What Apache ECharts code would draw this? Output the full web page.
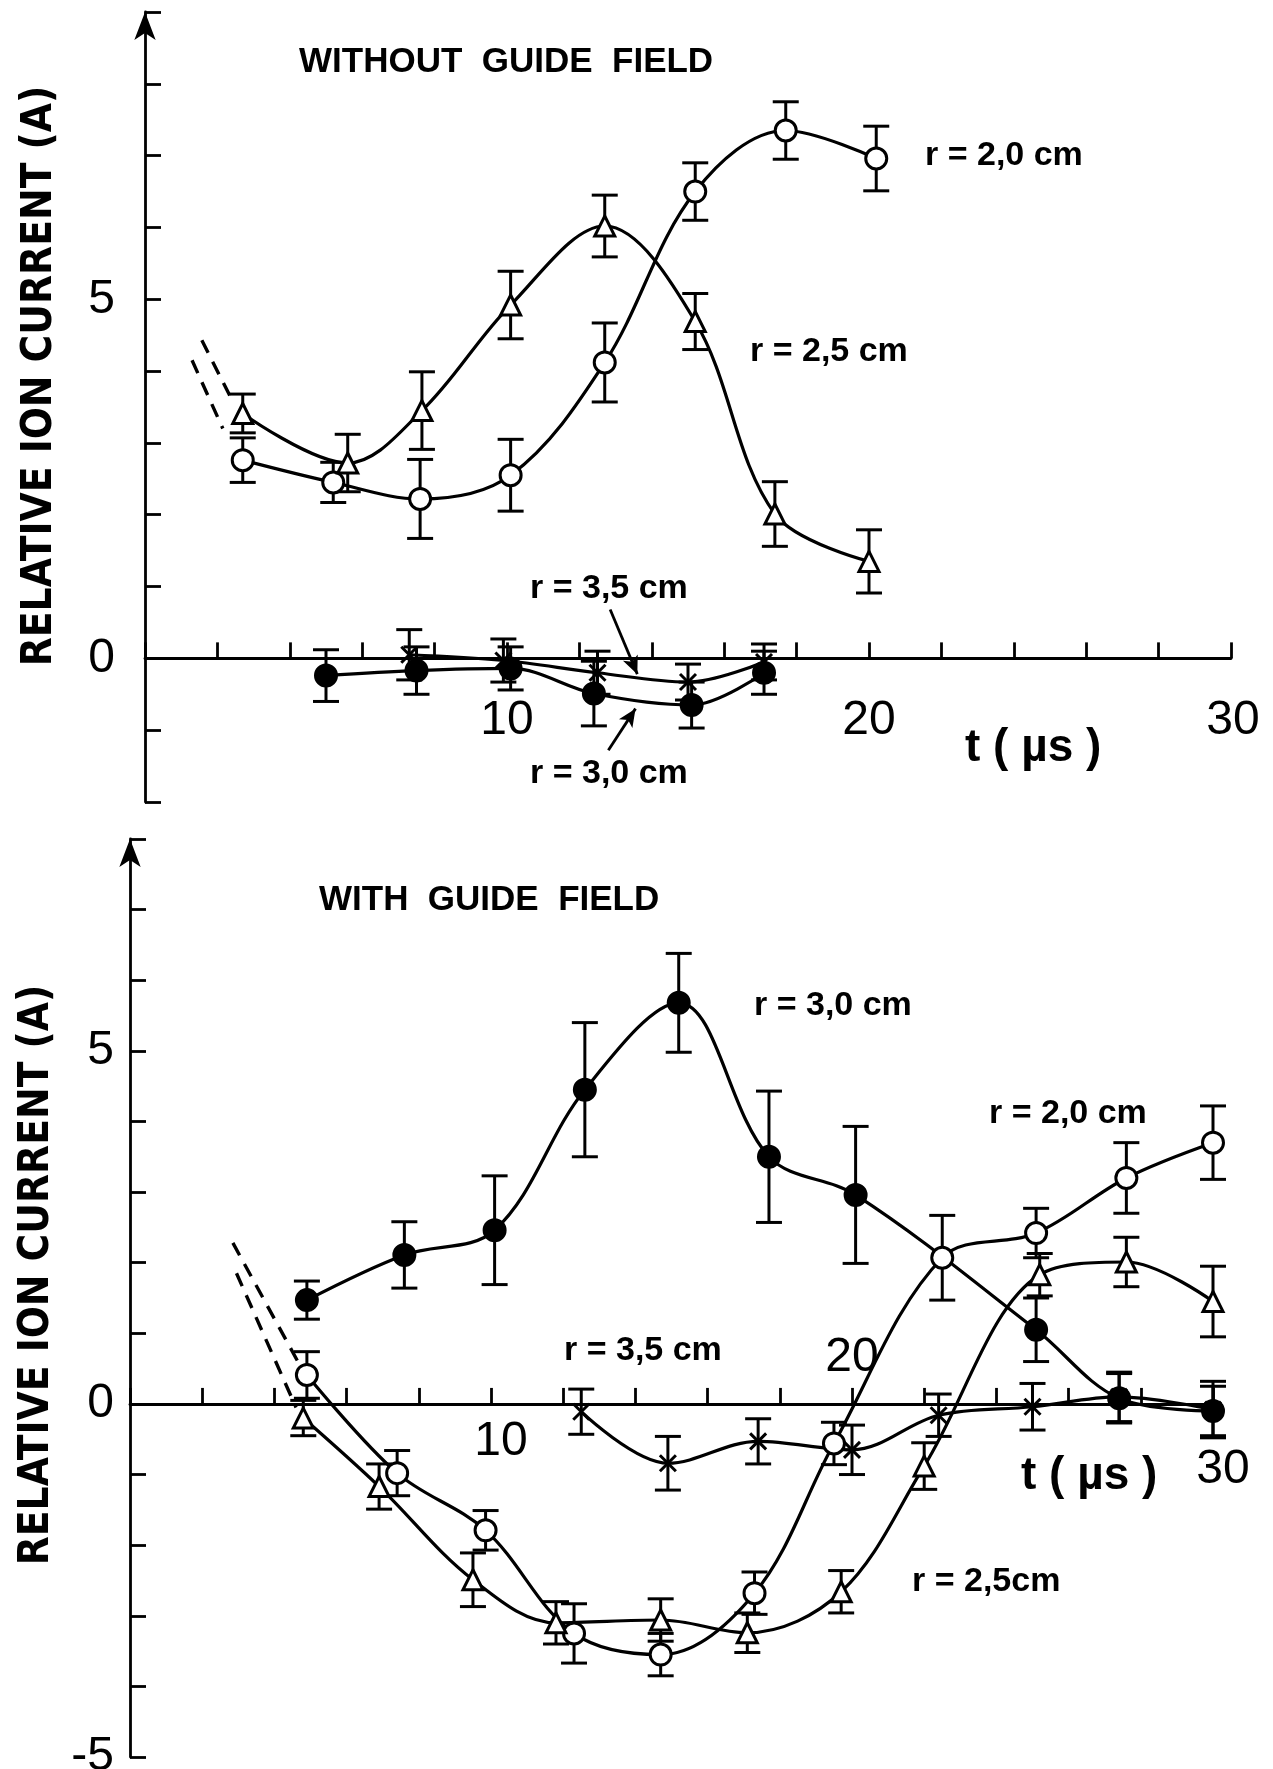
<!DOCTYPE html>
<html>
<head>
<meta charset="utf-8">
<script src="https://cdn.jsdelivr.net/npm/echarts@6/dist/echarts.min.js"></script>
<style>
	html, body { margin: 0; padding: 0; background: #fff; }
	#main { width: 1273px; height: 1769px; }
</style>
</head>
<body>
<div id="main"></div>
<script>
// [t (us), value, error] per curve
var topR20 = [[2.7, 2.76, 0.31], [5.2, 2.45, 0.28], [7.6, 2.22, 0.55], [10.1, 2.55, 0.5], [12.7, 4.12, 0.55], [15.2, 6.5, 0.4], [17.7, 7.35, 0.4], [20.2, 6.96, 0.45]];
var topR25 = [[2.7, 3.41, 0.27], [5.6, 2.72, 0.4], [7.65, 3.45, 0.54], [10.1, 4.92, 0.47], [12.7, 6.02, 0.43], [15.2, 4.69, 0.39], [17.4, 2.01, 0.45], [20.0, 1.35, 0.44]];
var topR30 = [[5.0, -0.24, 0.36], [7.5, -0.17, 0.33], [10.1, -0.14, 0.3], [12.4, -0.49, 0.45], [15.1, -0.65, 0.32], [17.1, -0.2, 0.3]];
var topR35 = [[7.3, 0.05, 0.35], [9.9, -0.03, 0.3], [12.5, -0.2, 0.3], [15.0, -0.33, 0.25], [17.1, -0.05, 0.25]];
var topDash20 = [[1.3, 4.15], [2.15, 3.2]];
var topDash25 = [[1.57, 4.43], [2.4, 3.6]];

var botR20 = [[4.9, 0.41, 0.33], [7.4, -0.98, 0.32], [9.85, -1.79, 0.28], [12.3, -3.25, 0.42], [14.7, -3.55, 0.3], [17.3, -2.68, 0.3], [19.5, -0.56, 0.3], [22.5, 2.07, 0.6], [25.1, 2.42, 0.35], [27.6, 3.2, 0.5], [30.0, 3.7, 0.52]];
var botR25 = [[4.8, -0.2, 0.25], [6.9, -1.17, 0.32], [9.5, -2.49, 0.38], [11.8, -3.1, 0.3], [14.7, -3.06, 0.3], [17.1, -3.24, 0.28], [19.7, -2.66, 0.3], [22.0, -0.88, 0.33], [25.2, 1.83, 0.3], [27.6, 2.01, 0.35], [30.0, 1.45, 0.5]];
var botR30 = [[4.9, 1.47, 0.27], [7.6, 2.11, 0.47], [10.1, 2.46, 0.77], [12.6, 4.45, 0.95], [15.2, 5.68, 0.7], [17.7, 3.5, 0.93], [20.1, 2.96, 0.97], [25.1, 1.05, 0.45], [27.4, 0.08, 0.35], [30.0, -0.1, 0.35]];
var botR35 = [[12.5, -0.11, 0.32], [14.9, -0.84, 0.38], [17.4, -0.53, 0.32], [20.0, -0.65, 0.35], [22.4, -0.16, 0.3], [25.0, -0.04, 0.33], [27.4, 0.1, 0.35], [30.0, -0.08, 0.4]];
var botDash20 = [[2.85, 2.28], [4.65, 0.6]];
var botDash25 = [[2.95, 1.85], [4.6, -0.05]];

var topXLabels = [10, 20, 30];
var botXLabels = [10, 20, 30];
var topYLabels = [0, 5];
var botYLabels = [-5, 0, 5];

var FONT = '"Liberation Sans", Arial, sans-serif';
var NARROW = '"Liberation Sans Narrow", "DejaVu Sans Condensed", sans-serif';
var BLACK = '#000';

var SYM = {
	open: { symbol: 'circle', size: 21, fill: '#fff' },
	tri: { symbol: 'triangle', size: 20, fill: '#fff' },
	full: { symbol: 'circle', size: 21, fill: BLACK },
	cross: { symbol: 'path://M0,0L10,10M10,0L0,10', size: 16, fill: BLACK }
};

function curve(data, gi, sym, extra) {
	var s = {
		type: 'line',
		xAxisIndex: gi,
		yAxisIndex: gi,
		data: data.map(function(d) { return [d[0], d[1]]; }),
		smooth: 0.35,
		symbol: sym.symbol,
		symbolSize: sym.size,
		lineStyle: { color: BLACK, width: 3.2 },
		itemStyle: { color: sym.fill, borderColor: BLACK, borderWidth: 3 },
		z: 3,
		silent: true
	};
	if(extra) {
		for(var k in extra) s[k] = extra[k];
	}
	return s;
}

function bars(data, gi) {
	return {
		type: 'custom',
		xAxisIndex: gi,
		yAxisIndex: gi,
		data: data.map(function(d) { return [d[0], d[1] - d[2], d[1] + d[2]]; }),
		encode: { x: 0, y: [1, 2] },
		z: 2,
		silent: true,
		renderItem: function(params, api) {
			var lo = api.coord([api.value(0), api.value(1)]);
			var hi = api.coord([api.value(0), api.value(2)]);
			var w = 13;
			var st = { stroke: BLACK, lineWidth: 3 };
			return {
				type: 'group',
				children: [
					{ type: 'line', shape: { x1: lo[0], y1: lo[1], x2: hi[0], y2: hi[1] }, style: st },
					{ type: 'line', shape: { x1: lo[0] - w, y1: lo[1], x2: lo[0] + w, y2: lo[1] }, style: st },
					{ type: 'line', shape: { x1: hi[0] - w, y1: hi[1], x2: hi[0] + w, y2: hi[1] }, style: st }
				]
			};
		}
	};
}

function dashed(data, gi) {
	return {
		type: 'line',
		xAxisIndex: gi,
		yAxisIndex: gi,
		data: data,
		symbol: 'none',
		lineStyle: { color: BLACK, width: 3.4, type: [14, 10] },
		z: 3,
		silent: true
	};
}

function arrowLine(from, to) {
	return {
		silent: true,
		symbol: ['none', 'arrow'],
		symbolSize: [12, 18],
		lineStyle: { color: BLACK, width: 2.8, type: 'solid' },
		label: { show: false },
		data: [[{ coord: from }, { coord: to }]]
	};
}

function xAxis(gi) {
	return {
		type: 'value',
		gridIndex: gi,
		min: 0,
		max: 30,
		interval: 2,
		axisLine: { onZero: true, lineStyle: { color: BLACK, width: 2.8 } },
		axisTick: { inside: true, length: 16, lineStyle: { color: BLACK, width: 2.8 } },
		axisLabel: { show: false },
		splitLine: { show: false }
	};
}

function yAxis(gi, min, max, labels, margin) {
	return {
		type: 'value',
		gridIndex: gi,
		min: min,
		max: max,
		interval: 1,
		axisLine: { show: true, symbol: ['none', 'arrow'], symbolSize: [16, 28], lineStyle: { color: BLACK, width: 2.8 } },
		axisTick: { show: true, inside: true, length: 16, lineStyle: { color: BLACK, width: 2.8 } },
		axisLabel: {
			color: BLACK, fontSize: 48, fontFamily: FONT, margin: margin,
			formatter: function(v) {
				if(labels.indexOf(v) < 0) return '';
				return v < 0 ? '-' + Math.abs(v) : String(v);
			}
		},
		splitLine: { show: false }
	};
}

function txt(x, y, text, size, extra) {
	extra = extra || {};
	var e = {
		type: 'text',
		x: x,
		y: y,
		silent: true,
		style: {
			text: text,
			font: (extra.weight ? extra.weight + ' ' : '') + size + 'px ' + (extra.family || FONT),
			fill: BLACK,
			align: extra.center || extra.rotate ? 'center' : 'left',
			verticalAlign: 'middle',
			textAlign: extra.center || extra.rotate ? 'center' : 'left',
			textVerticalAlign: 'middle'
		}
	};
	if(extra.rotate) e.rotation = extra.rotate;
	return e;
}

var myChart = echarts.init(document.getElementById('main'), null, { renderer: 'canvas' });

var option = {
	animation: false,
	backgroundColor: '#fff',
	grid: [
		{ left: 145, top: 12, width: 1086, height: 790, containLabel: false, outerBoundsMode: 'none' },
		{ left: 130, top: 839, width: 1083, height: 918, containLabel: false, outerBoundsMode: 'none' }
	],
	xAxis: [xAxis(0), xAxis(1)],
	yAxis: [yAxis(0, -2, 9, topYLabels, 30), yAxis(1, -5, 8, botYLabels, 16)],
	series: [
		bars(topR20, 0), bars(topR25, 0), bars(topR30, 0), bars(topR35, 0),
		curve(topR20, 0, SYM.open),
		curve(topR25, 0, SYM.tri),
		curve(topR30, 0, SYM.full, { markLine: arrowLine([12.8, -1.28], [13.55, -0.7]) }),
		curve(topR35, 0, SYM.cross, { markLine: arrowLine([12.85, 0.68], [13.6, -0.22]) }),
		dashed(topDash20, 0), dashed(topDash25, 0),

		bars(botR20, 1), bars(botR25, 1), bars(botR30, 1), bars(botR35, 1),
		curve(botR20, 1, SYM.open),
		curve(botR25, 1, SYM.tri),
		curve(botR30, 1, SYM.full),
		curve(botR35, 1, SYM.cross),
		dashed(botDash20, 1), dashed(botDash25, 1)
	]
};
myChart.setOption(option);

// x tick labels sit on the zero line, placed from the axes
function px(gi, t) {
	return myChart.convertToPixel({ xAxisIndex: gi, yAxisIndex: gi }, [t, 0]);
}
var els = [];
// top panel: all below the axis
topXLabels.forEach(function(v) {
	var p = px(0, v);
	els.push(txt(p[0] + (v === 30 ? 2 : 0), p[1] + 62, String(v), 48, { center: true }));
});
// bottom panel: 20 drawn above the axis, 10 and 30 below
botXLabels.forEach(function(v) {
	var p = px(1, v);
	var dy = v === 20 ? -46 : (v === 10 ? 38 : 66);
	els.push(txt(p[0] + (v === 20 ? 0 : 10), p[1] + dy, String(v), 48, { center: true }));
});

myChart.setOption({
	graphic: { elements: els.concat([
		txt(299, 62, 'WITHOUT  GUIDE  FIELD', 35, { weight: 'bold' }),
		txt(925, 156, 'r = 2,0 cm', 34, { weight: 'bold' }),
		txt(750, 352, 'r = 2,5 cm', 34, { weight: 'bold' }),
		txt(530, 589, 'r = 3,5 cm', 34, { weight: 'bold' }),
		txt(530, 774, 'r = 3,0 cm', 34, { weight: 'bold' }),
		txt(965, 748, 't ( µs )', 46, { weight: 'bold' }),
		txt(40, 376, 'RELATIVE ION CURRENT (A)', 42, { family: NARROW, weight: 'bold', rotate: Math.PI / 2 }),

		txt(319, 900, 'WITH  GUIDE  FIELD', 35, { weight: 'bold' }),
		txt(754, 1006, 'r = 3,0 cm', 34, { weight: 'bold' }),
		txt(989, 1114, 'r = 2,0 cm', 34, { weight: 'bold' }),
		txt(564, 1351, 'r = 3,5 cm', 34, { weight: 'bold' }),
		txt(912, 1582, 'r = 2,5cm', 34, { weight: 'bold' }),
		txt(1021, 1476, 't ( µs )', 46, { weight: 'bold' }),
		txt(37, 1275, 'RELATIVE ION CURRENT (A)', 42, { family: NARROW, weight: 'bold', rotate: Math.PI / 2 })
	]) }
});
</script>
</body>
</html>
